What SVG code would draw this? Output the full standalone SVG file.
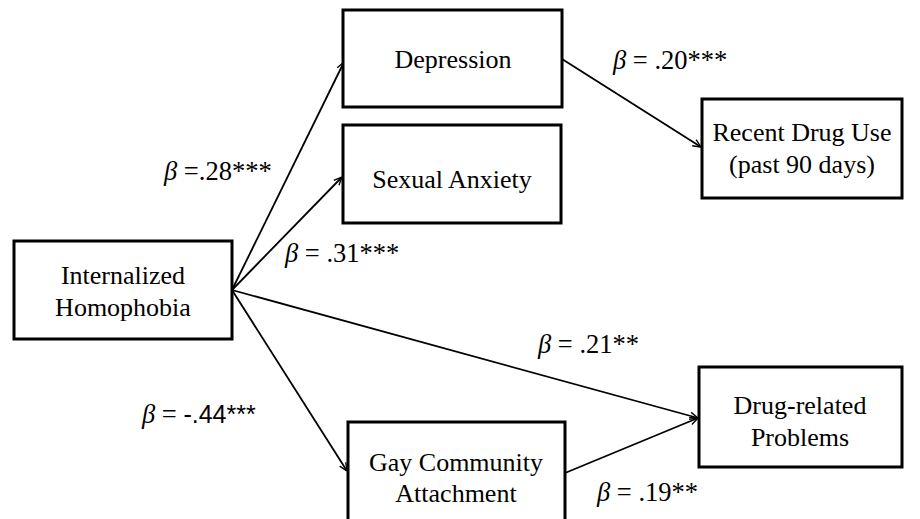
<svg xmlns="http://www.w3.org/2000/svg" width="920" height="519" viewBox="0 0 920 519">
<style>
.box{fill:#fff;stroke:#000;stroke-width:3}
.t{font-family:"Liberation Serif","Times New Roman",serif;font-size:26px;fill:#000;text-anchor:middle}
.lab{font-family:"Liberation Serif","Times New Roman",serif;font-size:26.5px;fill:#000}
.b{font-style:italic}
.s{font-family:"Liberation Sans",Arial,sans-serif;font-size:25px}
.c{fill:none;stroke:#000;stroke-width:1.8;marker-end:url(#ah)}
</style>
<defs>
<marker id="ah" viewBox="0 0 10 10" refX="10" refY="5" markerWidth="9" markerHeight="9" markerUnits="userSpaceOnUse" orient="auto">
<path d="M1,1 L10,5 L1,9" fill="none" stroke="#000" stroke-width="1.5"/>
</marker>
</defs>
<rect width="920" height="519" fill="#fff"/>
<g id="connectors">
<line class="c" x1="232" y1="290" x2="344" y2="62"/>
<line class="c" x1="232" y1="290" x2="342" y2="177"/>
<line class="c" x1="562" y1="59" x2="701" y2="147"/>
<line class="c" x1="232" y1="290" x2="698" y2="418"/>
<line class="c" x1="565" y1="473" x2="698" y2="418"/>
<line class="c" x1="232" y1="290" x2="347" y2="471"/>
</g>
<g id="ih"><rect class="box" x="14" y="241" width="218" height="98"/><text class="t" x="123" y="284">Internalized</text><text class="t" x="123" y="316">Homophobia</text></g>
<g id="dep"><rect class="box" x="343" y="10" width="219" height="97"/><text class="t" x="453" y="68">Depression</text></g>
<g id="sa"><rect class="box" x="343" y="125" width="218" height="98"/><text class="t" x="452" y="188">Sexual Anxiety</text></g>
<g id="rdu"><rect class="box" x="702" y="99" width="200" height="99"/><text class="t" x="802" y="141">Recent Drug Use</text><text class="t" x="802" y="173">(past 90 days)</text></g>
<g id="drp"><rect class="box" x="699" y="367" width="203" height="100"/><text class="t" x="800" y="414">Drug-related</text><text class="t" x="800" y="446">Problems</text></g>
<g id="gca"><rect class="box" x="348" y="422" width="217" height="102"/><text class="t" x="456" y="471">Gay Community</text><text class="t" x="456" y="502">Attachment</text></g>
<g id="labels">
<text class="lab" x="164" y="180"><tspan class="b">β</tspan> =.28***</text>
<text class="lab" x="285" y="262"><tspan class="b">β</tspan> = .31***</text>
<text class="lab" x="613" y="69"><tspan class="b">β</tspan> = .20***</text>
<text class="lab" x="538" y="353"><tspan class="b">β</tspan> = .21**</text>
<text class="lab" x="142" y="423"><tspan class="b">β</tspan> = <tspan class="s">-.44***</tspan></text>
<text class="lab" x="597" y="501"><tspan class="b">β</tspan> = .19**</text>
</g>
</svg>
